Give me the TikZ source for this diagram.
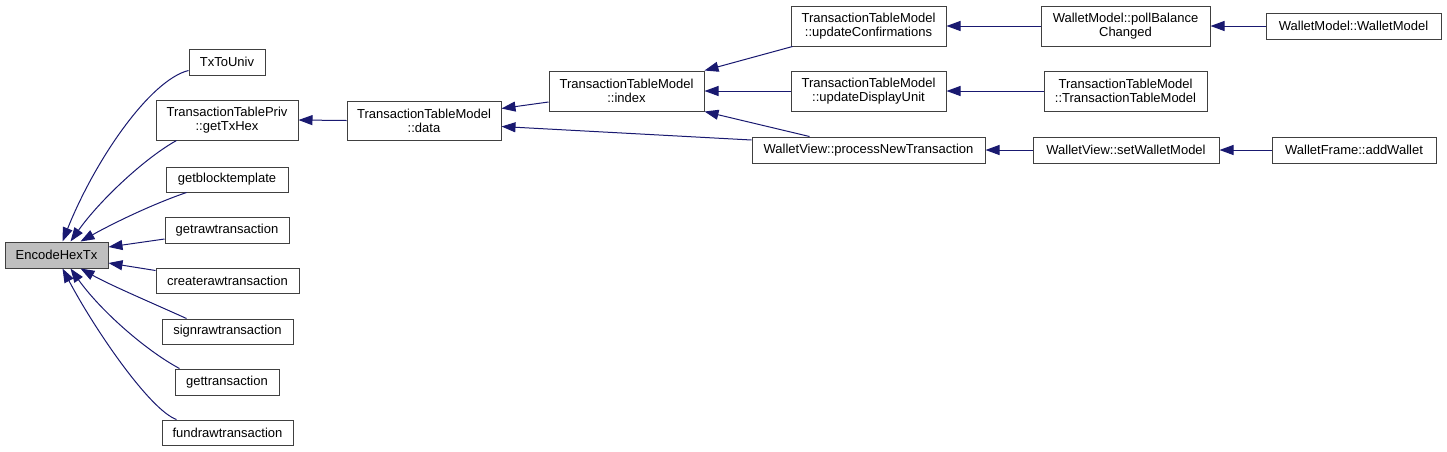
\documentclass[tikz,border=0pt]{standalone}
\usepackage{fontspec}
\setmainfont{Liberation Sans}
\usetikzlibrary{arrows.meta}
\definecolor{edgeblue}{HTML}{191970}
\definecolor{boxline}{HTML}{404040}
\definecolor{hl}{HTML}{BFBFBF}
\begin{document}
\begin{tikzpicture}[x=1pt,y=-1pt,
  fn/.style={draw=boxline, line width=1pt, fill=white, inner sep=0pt, align=center,
     font=\fontsize{13}{14}\selectfont},
  current/.style={fill=hl},
  call/.style={draw=edgeblue, line width=1pt, -{Triangle[length=14pt,width=10pt]}}]
\useasboundingbox (0,0) rectangle (1447,451);
\newcommand{\fnbox}[7][]{% [style] name, x1,y1,x2,y2, text
  \node[fn, #1, minimum width={#5-#3}, minimum height={#6-#4}] (#2) at ({(#3+#5)/2},{(#4+#6)/2}) {#7};}
\fnbox[current]{enc}{5}{242}{108}{268}{EncodeHexTx}
\fnbox{tx}{189}{49}{265}{75}{TxToUniv}
\fnbox{gettxhex}{156}{100}{298}{140}{TransactionTablePriv\\::getTxHex}
\fnbox{gbt}{166}{167}{288}{192}{getblocktemplate}
\fnbox{grt}{165}{217}{289}{243}{getrawtransaction}
\fnbox{crt}{156}{268}{299}{293}{createrawtransaction}
\fnbox{srt}{162}{319}{293}{344}{signrawtransaction}
\fnbox{gt}{175}{369}{279}{395}{gettransaction}
\fnbox{frt}{162}{420}{293}{445}{fundrawtransaction}
\fnbox{data}{347}{101}{501}{140}{TransactionTableModel\\::data}
\fnbox{index}{549}{71}{704}{111}{TransactionTableModel\\::index}
\fnbox{upconf}{791}{6}{946}{46}{TransactionTableModel\\::updateConfirmations}
\fnbox{updisp}{791}{71}{946}{111}{TransactionTableModel\\::updateDisplayUnit}
\fnbox{pnt}{752}{137}{985}{163}{WalletView::processNewTransaction}
\fnbox{poll}{1041}{6}{1210}{46}{WalletModel::pollBalance\\Changed}
\fnbox{wm}{1266}{13}{1441}{39}{WalletModel::WalletModel}
\fnbox{ttm}{1044}{71}{1207}{111}{TransactionTableModel\\::TransactionTableModel}
\fnbox{swm}{1033}{137}{1219}{163}{WalletView::setWalletModel}
\fnbox{aw}{1272}{137}{1436}{163}{WalletFrame::addWallet}
% left fan-in
\draw[call] ([yshift=5pt]tx.south west) .. controls (150,80) and (95,160) .. ([xshift=6pt]enc.north);
\draw[call] ([xshift=21pt]gettxhex.south west) .. controls (145,158) and (100,200) .. ([xshift=14pt]enc.north);
\draw[call] ([xshift=21pt]gbt.south west) .. controls (150,205) and (110,225) .. ([xshift=24pt]enc.north);
\draw[call] ([yshift=-9pt]grt.west) -- ([yshift=8pt]enc.east);
\draw[call] ([yshift=10pt]crt.west) -- ([yshift=-8pt]enc.east);
\draw[call] ([xshift=25pt]srt.north west) .. controls (150,302) and (110,285) .. ([xshift=24pt]enc.south);
\draw[call] ([xshift=5pt]gt.north west) .. controls (145,350) and (100,310) .. ([xshift=14pt]enc.south);
\draw[call] ([xshift=15pt]frt.north west) .. controls (150,410) and (95,330) .. ([xshift=6pt]enc.south);
% middle
\draw[call] (data.west) -- (gettxhex.east);
\draw[call] ([yshift=-11pt]index.west) -- ([yshift=12pt]data.east);
\draw[call] ([yshift=10pt]pnt.west) -- ([yshift=-6pt]data.east);
\draw[call] ([xshift=2pt]upconf.south west) -- (index.north east);
\draw[call] (updisp.west) -- (index.east);
\draw[call] ([xshift=58pt]pnt.north west) -- (index.south east);
% right
\draw[call] (poll.west) -- (upconf.east);
\draw[call] (ttm.west) -- (updisp.east);
\draw[call] (swm.west) -- (pnt.east);
\draw[call] (wm.west) -- (poll.east);
\draw[call] (aw.west) -- (swm.east);
\end{tikzpicture}
\end{document}
